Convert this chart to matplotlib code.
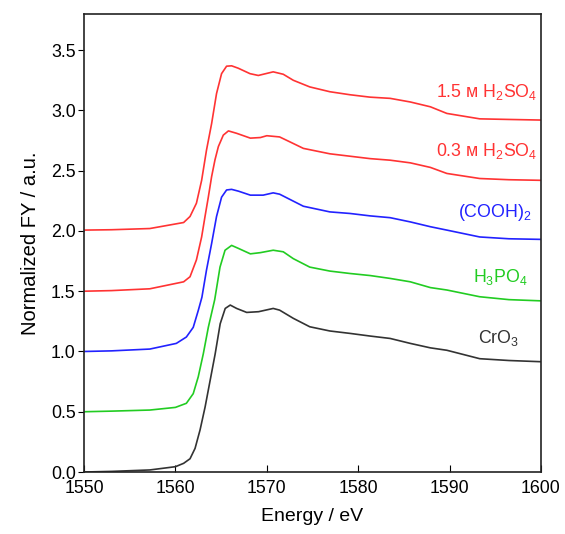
import matplotlib
matplotlib.use("Agg")
import matplotlib.pyplot as plt

plt.rcParams['font.family'] = ['Liberation Sans', 'DejaVu Sans']
plt.rcParams['mathtext.fontset'] = 'custom'
plt.rcParams['mathtext.rm'] = 'Liberation Sans'
plt.rcParams['mathtext.it'] = 'Liberation Sans'

# values: energy (eV) and normalized FY (offset as drawn)
e_cro3 = [1550, 1553, 1557.2, 1560.0, 1560.9, 1561.6, 1562.15, 1562.7, 1563.25,
          1563.8, 1564.35, 1564.9, 1565.45, 1566.0, 1566.7, 1567.8, 1569.1,
          1570.7, 1571.4, 1572.9, 1574.7, 1576.9, 1579.1, 1581.3, 1583.5,
          1585.7, 1587.9, 1589.7, 1593.3, 1596.5, 1600]
cro3 = [0.0, 0.005, 0.017, 0.044, 0.072, 0.11, 0.196, 0.35, 0.54,
        0.76, 0.98, 1.23, 1.357, 1.385, 1.357, 1.324, 1.33,
        1.357, 1.343, 1.275, 1.205, 1.17, 1.15, 1.128, 1.108,
        1.067, 1.03, 1.01, 0.94, 0.925, 0.915]

e_h3po4 = [1550, 1553, 1557.2, 1560.0, 1561.2, 1561.95, 1562.5, 1563.05, 1563.6,
           1564.3, 1564.88, 1565.43, 1566.15, 1566.9, 1568.2, 1569.3, 1570.7,
           1571.8, 1572.9, 1574.7, 1576.9, 1579.1, 1581.3, 1583.5, 1585.7,
           1587.9, 1589.7, 1593.3, 1596.5, 1600]
h3po4 = [0.5, 0.505, 0.514, 0.536, 0.57, 0.65, 0.79, 0.98, 1.2,
         1.43, 1.70, 1.84, 1.88, 1.855, 1.81, 1.82, 1.84,
         1.827, 1.77, 1.70, 1.667, 1.647, 1.63, 1.606, 1.578,
         1.53, 1.51, 1.454, 1.43, 1.42]

e_cooh2 = [1550, 1553, 1557.2, 1560.1, 1561.2, 1561.95, 1562.5, 1562.9, 1563.4,
           1563.96, 1564.5, 1565.05, 1565.6, 1566.15, 1566.9, 1568.2, 1569.6,
           1570.7, 1571.4, 1574.0, 1576.9, 1579.1, 1581.3, 1583.5, 1585.7,
           1587.9, 1589.7, 1593.3, 1596.5, 1600]
cooh2 = [1.0, 1.005, 1.02, 1.067, 1.12, 1.2, 1.34, 1.45, 1.675,
         1.895, 2.12, 2.28, 2.34, 2.345, 2.33, 2.297, 2.297,
         2.316, 2.305, 2.205, 2.158, 2.145, 2.125, 2.11, 2.075,
         2.035, 2.007, 1.95, 1.935, 1.93]

e_h2so4_03 = [1550, 1553, 1557.2, 1560.9, 1561.6, 1562.3, 1562.87, 1563.24, 1563.6,
              1563.96, 1564.33, 1564.7, 1565.24, 1565.8, 1566.7, 1568.2, 1569.3,
              1570.0, 1571.4, 1572.5, 1574.0, 1576.9, 1579.1, 1581.3, 1583.5,
              1585.7, 1587.9, 1589.7, 1593.3, 1596.5, 1600]
h2so4_03 = [1.5, 1.505, 1.52, 1.578, 1.62, 1.76, 1.95, 2.12, 2.28,
            2.45, 2.59, 2.70, 2.795, 2.83, 2.81, 2.77, 2.775,
            2.79, 2.78, 2.74, 2.685, 2.64, 2.62, 2.60, 2.587,
            2.565, 2.527, 2.477, 2.435, 2.425, 2.42]

e_h2so4_15 = [1550, 1553, 1557.2, 1560.9, 1561.6, 1562.3, 1562.87, 1563.4, 1563.96,
              1564.5, 1565.05, 1565.6, 1566.15, 1566.88, 1568.16, 1569.07, 1570.7,
              1571.8, 1572.9, 1574.7, 1576.9, 1579.1, 1581.3, 1583.5, 1585.7,
              1587.9, 1589.7, 1593.3, 1596.5, 1600]
h2so4_15 = [2.007, 2.01, 2.02, 2.07, 2.12, 2.23, 2.42, 2.67, 2.89,
            3.14, 3.305, 3.367, 3.37, 3.35, 3.305, 3.29, 3.32,
            3.30, 3.25, 3.195, 3.155, 3.13, 3.11, 3.10, 3.07,
            3.03, 2.975, 2.93, 2.925, 2.92]

energies = [e_cro3, e_h3po4, e_cooh2, e_h2so4_03, e_h2so4_15]
series = [cro3, h3po4, cooh2, h2so4_03, h2so4_15]
colors = ['#333333', '#22cc22', '#2222ff', '#ff3333', '#ff3333']
labels = ['CrO$_3$', 'H$_3$PO$_4$', '(COOH)$_2$',
          '0.3 ᴍ H$_2$SO$_4$', '1.5 ᴍ H$_2$SO$_4$']
label_x = [1597.6, 1598.5, 1599.0, 1599.6, 1599.6]
label_y = [1.11, 1.62, 2.15, 2.66, 3.15]

fig = plt.figure(figsize=(5.65, 5.34), dpi=100)
ax = fig.add_axes([0.1487, 0.1161, 0.8088, 0.8577])

for e, s, c in zip(energies, series, colors):
    ax.plot(e, s, color=c, lw=1.2)

for lab, lx, ly, c in zip(labels, label_x, label_y, colors):
    ax.text(lx, ly, lab, color=c, fontsize=12.8, ha='right', va='center')

ax.set_xlim(1550, 1600)
ax.set_ylim(0, 3.8)
ax.set_xticks([1550, 1560, 1570, 1580, 1590, 1600])
ax.set_yticks([0.0, 0.5, 1.0, 1.5, 2.0, 2.5, 3.0, 3.5])
ax.set_yticklabels(['0.0', '0.5', '1.0', '1.5', '2.0', '2.5', '3.0', '3.5'])
ax.tick_params(axis='x', direction='in', length=5, labelsize=12.8, pad=6)
ax.tick_params(axis='y', direction='out', length=4, labelsize=12.8, pad=2)
for sp in ax.spines.values():
    sp.set_linewidth(1.2)
    sp.set_color('#222222')

ax.set_xlabel('Energy / eV', fontsize=14, labelpad=8)
ax.set_ylabel('Normalized FY / a.u.', fontsize=14.5, labelpad=8)

fig.savefig('out.png', dpi=100)
